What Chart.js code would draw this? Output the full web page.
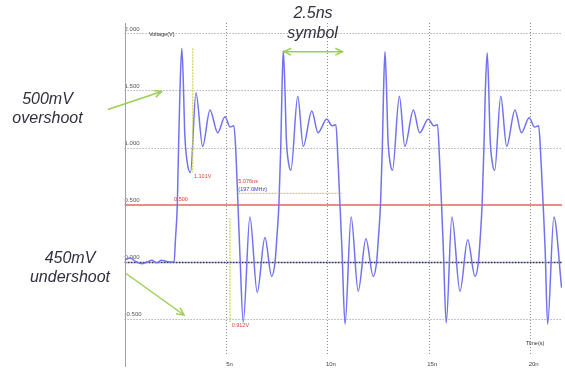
<!DOCTYPE html>
<html><head><meta charset="utf-8">
<script src="https://cdn.jsdelivr.net/npm/chart.js@4/dist/chart.umd.min.js"></script>
<style>html,body{margin:0;padding:0;background:#fff;}canvas{display:block}</style>
</head><body>
<canvas id="c" width="565" height="374"></canvas>
<script>
// time in ns
const timeNs = [
  0.00,0.27,0.55,0.84,1.10,1.34,1.58,1.83,2.08,2.32,2.44,2.51,2.60,2.66,2.73,2.82,2.90,2.96,3.08,3.25,
  3.52,3.85,4.21,4.59,4.95,5.20,5.39,5.49,5.59,5.69,5.85,6.18,6.54,6.92,7.25,
  7.42,7.50,7.61,7.70,7.76,7.825,7.91,7.97,8.09,8.20,8.54,8.81,9.23,9.54,9.97,10.23,10.42,10.52,10.62,10.72,10.87,11.17,11.52,11.90,12.26,
  12.43,12.51,12.62,12.71,12.77,12.84,12.92,12.98,13.10,13.21,13.55,13.82,14.24,14.55,14.98,15.24,15.43,15.53,15.63,15.72,15.86,16.14,16.54,16.92,17.28,
  17.45,17.53,17.63,17.72,17.79,17.88,17.96,18.02,18.14,18.25,18.55,18.84,19.25,19.57,19.95,20.22,20.42,20.53,20.64,20.74,20.86,21.17,21.55
];
// voltage in V
const voltage = [
  0.01,0.03,0.00,-0.02,-0.005,0.01,-0.01,0.01,0.00,-0.005,0.00,0.20,0.50,1.00,1.50,1.87,1.55,1.15,0.88,0.78,
  1.48,1.01,1.33,1.13,1.27,1.18,1.19,0.95,0.50,0.05,-0.53,0.39,-0.27,0.21,-0.13,
  0.00,0.19,0.50,1.00,1.50,1.85,1.50,1.10,0.86,0.80,1.45,1.01,1.32,1.13,1.25,1.19,1.20,0.90,0.50,0.10,-0.55,0.39,-0.26,0.20,-0.13,
  0.00,0.19,0.50,1.00,1.50,1.84,1.50,1.10,0.86,0.80,1.45,1.01,1.33,1.13,1.25,1.19,1.20,0.90,0.50,0.10,-0.54,0.39,-0.26,0.19,-0.13,
  0.00,0.19,0.50,1.00,1.50,1.83,1.50,1.10,0.86,0.80,1.45,1.01,1.33,1.13,1.26,1.18,1.19,0.90,0.50,0.10,-0.55,0.39,-0.23
];
const yTickValues = [-0.5, 0, 0.5, 1, 1.5, 2];
const yTickLabels = ['-0.500', '0.000', '0.500', '1.000', '1.500', '2.000'];
const xTickValues = [5, 10, 15, 20];
const xTickLabels = ['5n', '10n', '15n', '20n'];
const thresholdVolts = 0.5;

const points = timeNs.map((t, i) => ({x: t, y: voltage[i]}));
const FONT = '"Liberation Sans", Arial, sans-serif';

function arrowHead(ctx, x1, y1, x2, y2, len) {
  const ang = Math.atan2(y2 - y1, x2 - x1);
  ctx.beginPath();
  ctx.moveTo(x2 - len * Math.cos(ang - 0.45), y2 - len * Math.sin(ang - 0.45));
  ctx.lineTo(x2, y2);
  ctx.lineTo(x2 - len * Math.cos(ang + 0.45), y2 - len * Math.sin(ang + 0.45));
  ctx.stroke();
}
function arrow(ctx, x1, y1, x2, y2, both) {
  ctx.beginPath(); ctx.moveTo(x1, y1); ctx.lineTo(x2, y2); ctx.stroke();
  arrowHead(ctx, x1, y1, x2, y2, 8);
  if (both) arrowHead(ctx, x2, y2, x1, y1, 8);
}

const overlay = {
  id: 'overlay',
  beforeDatasetsDraw(chart) {
    const {ctx, chartArea: a, scales: {x, y}} = chart;
    ctx.save();
    yTickValues.forEach(v => {
      if (v === thresholdVolts) return;
      const py = Math.round(y.getPixelForValue(v)) + 0.5;
      ctx.beginPath();
      if (v === 0) { ctx.strokeStyle = '#2c2c68'; ctx.setLineDash([2, 1]); ctx.lineWidth = 1.5; }
      else { ctx.strokeStyle = '#8c8c8c'; ctx.setLineDash([1, 2]); ctx.lineWidth = 1; }
      ctx.moveTo(a.left, py); ctx.lineTo(a.right, py); ctx.stroke();
    });
    // red threshold line
    const ty = Math.round(y.getPixelForValue(thresholdVolts));
    ctx.fillStyle = '#f08a8a';
    ctx.fillRect(a.left, ty - 1, a.right - a.left, 2);
    ctx.strokeStyle = '#8c8c8c'; ctx.setLineDash([1, 2]); ctx.lineWidth = 1;
    xTickValues.forEach(v => {
      const px = Math.round(x.getPixelForValue(v)) + 0.5;
      ctx.beginPath(); ctx.moveTo(px, a.top); ctx.lineTo(px, a.bottom); ctx.stroke();
    });
    ctx.setLineDash([]); ctx.strokeStyle = '#a0a0a0'; ctx.lineWidth = 1;
    ctx.beginPath(); ctx.moveTo(Math.round(a.left) + 0.5, a.top); ctx.lineTo(Math.round(a.left) + 0.5, a.bottom + 12); ctx.stroke();
    ctx.restore();
  },
  afterDatasetsDraw(chart) {
    const {ctx, scales: {x, y}} = chart;
    const X = v => x.getPixelForValue(v), Y = v => y.getPixelForValue(v);
    ctx.save();
    // yellow cursor markers
    ctx.strokeStyle = '#d2d257'; ctx.lineWidth = 1.2; ctx.setLineDash([2, 1]);
    ctx.beginPath(); ctx.moveTo(X(3.36), Y(1.87)); ctx.lineTo(X(3.36), Y(0.78)); ctx.stroke();
    ctx.beginPath(); ctx.moveTo(X(5.61), Y(0.598)); ctx.lineTo(X(10.71), Y(0.598)); ctx.stroke();
    ctx.beginPath(); ctx.moveTo(X(5.20), Y(0.38)); ctx.lineTo(X(5.20), Y(-0.53)); ctx.stroke();
    ctx.setLineDash([]);
    // small texts
    ctx.textBaseline = 'middle'; ctx.textAlign = 'left';
    ctx.font = '5.5px ' + FONT;
    ctx.fillStyle = '#e03a3a';
    ctx.fillText('1.101V', X(3.42), Y(0.744));
    ctx.fillText('5.076ns', X(5.61), Y(0.70));
    ctx.fillText('0.912V', X(5.28), Y(-0.557));
    ctx.fillText('0.500', X(2.44), Y(0.548));
    ctx.fillStyle = '#3a3acc';
    ctx.fillText('(197.0MHz)', X(5.61), Y(0.633));
    ctx.fillStyle = '#333333';
    ctx.fillText('Voltage(V)', X(1.20), Y(1.99));
    ctx.fillText('Time(s)', X(19.79), Y(-0.718));
    // green arrows
    ctx.strokeStyle = '#9ccf55'; ctx.lineWidth = 1.5;
    arrow(ctx, 108, 109.5, 161.5, 91.5, false);
    arrow(ctx, 126, 273.5, 184, 315, false);
    arrow(ctx, 284, 51.7, 342.5, 51.7, true);
    // big italic notes
    ctx.fillStyle = '#30303f'; ctx.textAlign = 'center';
    ctx.font = 'italic 16px ' + FONT;
    ctx.fillText('500mV', 47.5, 99.5);
    ctx.fillText('overshoot', 47.5, 118.5);
    ctx.fillText('450mV', 70, 259);
    ctx.fillText('undershoot', 70, 277.5);
    ctx.fillText('2.5ns', 313, 14);
    ctx.fillText('symbol', 312.5, 33.5);
    ctx.restore();
  }
};

new Chart(document.getElementById('c'), {
  type: 'scatter',
  data: {
    datasets: [{
      data: points,
      showLine: true,
      borderColor: '#7272f0',
      borderWidth: 1.5,
      pointRadius: 0,
      tension: 0.4,
      cubicInterpolationMode: 'monotone',
      fill: false
    }]
  },
  options: {
    responsive: false,
    animation: false,
    devicePixelRatio: 1,
    layout: {padding: {left: 124.6, top: 23, right: 3, bottom: 0}},
    plugins: {legend: {display: false}, tooltip: {enabled: false}},
    scales: {
      x: {
        type: 'linear', min: 0, max: 21.57,
        grid: {display: false, drawTicks: false},
        border: {display: false},
        afterBuildTicks: s => { s.ticks = xTickValues.map(v => ({value: v})); },
        afterFit: s => { s.height = 19; s.paddingLeft = 0; s.paddingRight = 0; },
        ticks: {
          autoSkip: false, maxRotation: 0, padding: 5.5, labelOffset: 3.5,
          font: {family: FONT, size: 6}, color: '#444',
          callback: (v) => xTickLabels[xTickValues.indexOf(v)]
        }
      },
      y: {
        type: 'linear', min: -0.820, max: 2.092,
        grid: {display: false, drawTicks: false},
        border: {display: false},
        afterBuildTicks: s => { s.ticks = yTickValues.map(v => ({value: v})); },
        afterFit: s => { s.width = 0; s.paddingTop = 0; s.paddingBottom = 0; },
        ticks: {
          mirror: true, padding: 0, labelOffset: -4.5, autoSkip: false,
          font: {family: FONT, size: 6}, color: '#555',
          callback: (v) => yTickLabels[yTickValues.indexOf(v)]
        }
      }
    }
  },
  plugins: [overlay]
});
</script>
</body></html>
